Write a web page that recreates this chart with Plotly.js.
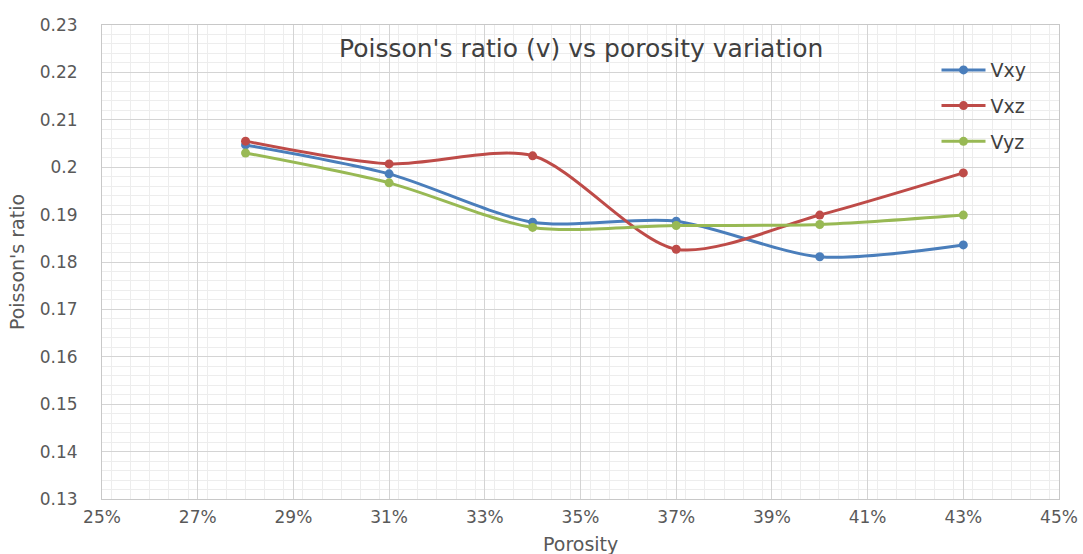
<!DOCTYPE html>
<html>
<head>
<meta charset="utf-8">
<script src="https://cdn.plot.ly/plotly-3.0.1.min.js"></script>
<style>html,body{margin:0;padding:0;background:#fff;}#chart{width:1083px;height:554px;}</style>
</head>
<body>
<div id="chart"></div>
<script>
const porosity = [0.28, 0.31, 0.34, 0.37, 0.40, 0.43];
const vxy = [0.2047, 0.1986, 0.1884, 0.1886, 0.1811, 0.1836];
const vxz = [0.2055, 0.2007, 0.2024, 0.1827, 0.1899, 0.1988];
const vyz = [0.2030, 0.1967, 0.1873, 0.1877, 0.1879, 0.1899];
const seriesNames = ["Vxy", "Vxz", "Vyz"];
const colors = ["#4A7EBB", "#BE4B48", "#98B954"];

const allSeries = [vxy, vxz, vyz];
const traces = allSeries.map((vals, i) => ({
  x: porosity, y: vals, name: seriesNames[i], legendgroup: seriesNames[i],
  type: "scatter", mode: "lines+markers",
  line: {color: colors[i], width: 3, shape: "spline", smoothing: 0.8},
  marker: {color: colors[i], size: 9}
}));

const fontFam = "DejaVu Sans, sans-serif";
const layout = {
  width: 1083, height: 554,
  margin: {l: 102, r: 24, t: 25, b: 55},
  paper_bgcolor: "#fff", plot_bgcolor: "#fff",
  font: {family: fontFam, color: "#595959", size: 17},
  showlegend: true,
  legend: {x: 0.872, y: 0.945, xanchor: "left", yanchor: "top", bgcolor: "rgba(0,0,0,0)",
           font: {size: 19, color: "#404040"}, tracegroupgap: 8, itemwidth: 44},
  annotations: [
    {text: "Poisson's ratio (v) vs porosity variation", xref: "paper", yref: "paper",
     x: 0.5, y: 0.95, xanchor: "center", yanchor: "middle", showarrow: false,
     font: {size: 25, color: "#404040", family: fontFam}},
    {text: "Porosity", xref: "paper", yref: "paper",
     x: 0.5, y: -0.094, xanchor: "center", yanchor: "middle", showarrow: false,
     font: {size: 19, color: "#595959", family: fontFam}}
  ],
  xaxis: {
    range: [0.25, 0.45], dtick: 0.02, tick0: 0.25, tickformat: ".0%",
    showgrid: true, gridcolor: "#D4D4D4", gridwidth: 1,
    minor: {dtick: 0.004, showgrid: true, gridcolor: "#EDEDED", gridwidth: 1},
    showline: true, linecolor: "#C8C8C8", linewidth: 1, mirror: true,
    ticks: "", zeroline: false, fixedrange: true,
    tickfont: {size: 17, color: "#595959"}, ticklabelstandoff: 3
  },
  yaxis: {
    range: [0.13, 0.23], dtick: 0.01, tick0: 0.13,
    showgrid: true, gridcolor: "#D4D4D4", gridwidth: 1,
    minor: {dtick: 0.002, showgrid: true, gridcolor: "#EDEDED", gridwidth: 1},
    showline: true, linecolor: "#C8C8C8", linewidth: 1, mirror: true,
    ticks: "", zeroline: false, fixedrange: true,
    tickfont: {size: 17, color: "#595959"}, ticklabelstandoff: 20,
    title: {text: "Poisson's ratio", font: {size: 19, color: "#595959"}, standoff: 10}
  }
};
Plotly.newPlot("chart", traces, layout, {displayModeBar: false, staticPlot: true});
</script>
</body>
</html>
